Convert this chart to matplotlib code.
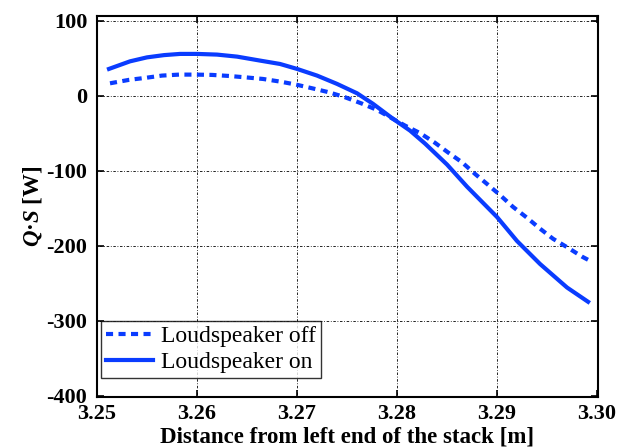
import numpy as np
import matplotlib
matplotlib.use('Agg')
import matplotlib.pyplot as plt

plt.rcParams['font.family'] = ['Liberation Serif', 'DejaVu Serif']
plt.rcParams['mathtext.fontset'] = 'custom'
plt.rcParams['mathtext.it'] = 'Liberation Serif:italic:bold'
plt.rcParams['mathtext.rm'] = 'Liberation Serif:bold'
plt.rcParams['axes.unicode_minus'] = False

# loudspeaker on (solid)
x_on = [3.2512, 3.2533, 3.2550, 3.2567, 3.2583, 3.2600, 3.2620, 3.2640, 3.2663,
        3.2683, 3.2700, 3.2720, 3.2740, 3.2760, 3.2776, 3.2796, 3.2813, 3.2828,
        3.2850, 3.2870, 3.2900, 3.2920, 3.2943, 3.2970, 3.2991]
y_on = [35.6, 45.7, 51, 54, 55.6, 55.6, 54.7, 52, 46.7,
        42.2, 35.6, 26.7, 15.6, 3.1, -11, -31, -46.7, -64,
        -92, -121.5, -162, -194, -224.6, -256, -275]

# loudspeaker off (dashed)
x_off = [3.2513, 3.2532, 3.2548, 3.2565, 3.2582, 3.2598, 3.2615, 3.2632, 3.2648,
         3.2666, 3.2683, 3.2699, 3.2715, 3.2732, 3.2748, 3.2764, 3.2780, 3.2808,
         3.2823, 3.2838, 3.2851, 3.2865, 3.2878, 3.2891, 3.2903, 3.2916, 3.2930,
         3.2943, 3.2956, 3.2971, 3.2985, 3.2991]
y_off = [16.4, 21, 23.6, 26.7, 28, 28, 27.6, 26.2, 24.4,
         22.2, 18.7, 14.7, 9.8, 4.4, -2.2, -10.2, -19.1, -40,
         -50, -63, -75.8, -89, -104.5, -119, -132.7, -148.5, -163,
         -177.5, -191, -203, -214.8, -219]

blue = '#0a3cff'

fig = plt.figure(figsize=(6.23, 4.48), dpi=100)
ax = fig.add_axes([0.1557, 0.1138, 0.8043, 0.8502])

ax.plot(x_off, y_off, color=blue, lw=3, dashes=(1.7, 1.3), label='Loudspeaker off')
ax.plot(x_on, y_on, color=blue, lw=3, label='Loudspeaker on')

ax.set_xlim(3.25, 3.3001)
ax.set_ylim(-402, 106)
ax.set_xticks([3.25, 3.26, 3.27, 3.28, 3.29, 3.30])
ax.set_xticklabels(['3.25', '3.26', '3.27', '3.28', '3.29', '3.30'])
ax.set_yticks([-400, -300, -200, -100, 0, 100])

ax.grid(True, color='black', linestyle=(0, (1, 2, 3, 2)), linewidth=0.6)
ax.tick_params(direction='in', top=True, right=True, length=5, width=1.2,
               labelsize=16)
ax.tick_params(axis='y', pad=7)
ax.tick_params(axis='x', pad=5)
for lab in ax.get_xticklabels() + ax.get_yticklabels():
    lab.set_fontweight('bold')
for s in ax.spines.values():
    s.set_linewidth(1.5)

ax.set_xlabel('Distance from left end of the stack [m]', fontsize=16.5,
              fontweight='bold', labelpad=2)
ax.set_ylabel(r'$Q$·$S$ [W]', fontsize=16.5, fontweight='bold', labelpad=2)

leg = ax.legend(loc='lower left', bbox_to_anchor=(0.008, 0.05), borderaxespad=0,
                fontsize=17, frameon=True, fancybox=False, edgecolor='black',
                handlelength=2.0, borderpad=0.2, labelspacing=0.2,
                handletextpad=0.35)
leg.get_frame().set_linewidth(1.0)

fig.savefig('out.png', dpi=100)
